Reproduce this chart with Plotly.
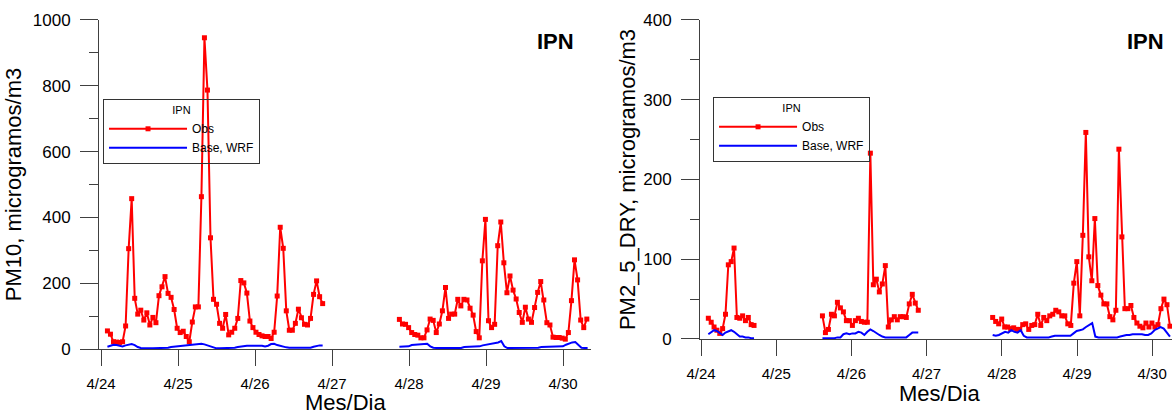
import pandas as pd
import plotly.graph_objects as go

pm10_obs_1 = [55, 45, 22, 21, 20, 22, 70, 305, 457, 154, 106, 118, 88, 110, 73, 96, 80, 162,
              189, 220, 169, 157, 120, 63, 50, 54, 38, 22, 82, 128, 128, 463, 946, 787, 338,
              151, 136, 78, 63, 105, 43, 51, 63, 93, 208, 201, 170, 85, 65, 51, 44, 40, 38,
              38, 32, 51, 161, 370, 306, 116, 57, 57, 78, 121, 95, 75, 73, 93, 166, 207, 159, 138]
pm10_obs_2 = [90, 76, 75, 65, 50, 44, 42, 34, 34, 58, 91, 87, 50, 76, 116, 187, 93, 106, 106,
              151, 131, 151, 149, 124, 103, 53, 34, 268, 394, 86, 65, 75, 314, 386, 262, 171,
              222, 179, 152, 111, 81, 127, 91, 81, 126, 172, 205, 149, 80, 73, 36, 35, 35, 33,
              30, 50, 147, 271, 210, 88, 65, 91]
pm10_wrf_1 = [7, 10, 13, 12, 9, 8, 11, 13, 15, 12, 6, 3, 2, 2, 2, 2, 2, 2, 2, 3, 4, 6, 7, 8,
              9, 10, 10, 11, 12, 12, 14, 16, 14, 11, 7, 4, 2, 2, 2, 2, 2, 3, 4, 6, 8, 10, 10,
              10, 10, 10, 11, 10, 8, 10, 15, 16, 12, 9, 7, 5, 4, 4, 4, 3, 3, 3, 3, 4, 7, 10, 11, 11]
pm10_wrf_2 = [7, 7, 7, 8, 12, 13, 13, 13, 14, 16, 8, 4, 3, 3, 3, 3, 3, 3, 3, 3, 3, 6, 6, 6, 6,
              7, 8, 11, 13, 14, 15, 17, 20, 24, 8, 3, 3, 3, 3, 3, 3, 3, 3, 3, 3, 4, 6, 6, 6, 6,
              6, 6, 7, 8, 13, 17, 20, 21, 12, 4, 3, 3]

pm25_obs_a = [26, 21, 15, 11, 7, 13, 31, 93, 97, 114, 27, 26, 29, 23, 27, 18, 17]
pm25_obs_b = [29, 8, 12, 31, 29, 46, 39, 34, 23, 23, 17, 23, 26, 22, 21, 21, 233, 68, 75, 59,
              69, 92, 15, 24, 28, 24, 28, 28, 27, 44, 56, 45, 36]
pm25_obs_c = [27, 22, 19, 25, 15, 15, 13, 14, 12, 12, 18, 19, 12, 17, 18, 31, 17, 27, 23, 29,
              31, 36, 34, 29, 29, 19, 17, 70, 97, 29, 130, 259, 103, 73, 151, 67, 55, 44, 44,
              28, 24, 36, 238, 128, 38, 38, 42, 27, 20, 16, 14, 20, 15, 20, 15, 18, 38, 50, 43, 16]
pm25_wrf_a = [6, 8, 11, 10, 7, 5, 8, 10, 11, 9, 6, 3, 3, 2, 2, 1, 1]
pm25_wrf_b = [1, 1, 1, 1, 1, 2, 2, 6, 7, 6, 7, 7, 9, 8, 5, 9, 12, 10, 7, 5, 3, 2, 2, 2, 2, 2,
              2, 2, 2, 5, 8, 8, 8]
pm25_wrf_c = [5, 4, 5, 7, 9, 8, 11, 9, 8, 11, 4, 2, 2, 2, 2, 2, 2, 2, 2, 3, 4, 4, 4, 4, 4, 4,
              7, 10, 11, 12, 15, 18, 20, 3, 2, 2, 2, 2, 2, 2, 2, 3, 4, 5, 5, 6, 6, 6, 6, 5, 5,
              7, 11, 13, 15, 13, 8, 3]

# start / end time of each data segment
seg_l1 = ("2006-04-24 02:00", "2006-04-26 21:05")
seg_l2 = ("2006-04-27 21:00", "2006-04-30 07:25")
seg_l2w = ("2006-04-27 21:00", "2006-04-30 07:40")
seg_ra = ("2006-04-24 02:20", "2006-04-24 16:55")
seg_rb = ("2006-04-25 14:45", "2006-04-26 21:20")
seg_rc = ("2006-04-27 21:05", "2006-04-30 05:40")


def join(*parts):
    xs, ys = [], []
    for (t0, t1), vals in parts:
        t = pd.date_range(t0, t1, periods=len(vals))
        if xs:
            xs.append(t[0] - pd.Timedelta(minutes=30))
            ys.append(None)
        xs.extend(t)
        ys.extend(vals)
    return xs, ys


RED = "#ff0000"
BLUE = "#0000ff"
AXC = "#404040"
FONT = "Arial, Liberation Sans, sans-serif"

fig = go.Figure()

x, y = join((seg_l1, pm10_obs_1), (seg_l2, pm10_obs_2))
fig.add_trace(go.Scatter(x=x, y=y, name="Obs", mode="lines+markers",
                         line=dict(color=RED, width=2), marker=dict(symbol="square", size=5, color=RED),
                         xaxis="x", yaxis="y", legend="legend"))
x, y = join((seg_l1, pm10_wrf_1), (seg_l2w, pm10_wrf_2))
fig.add_trace(go.Scatter(x=x, y=y, name="Base, WRF", mode="lines",
                         line=dict(color=BLUE, width=2), xaxis="x", yaxis="y", legend="legend"))

x, y = join((seg_ra, pm25_obs_a), (seg_rb, pm25_obs_b), (seg_rc, pm25_obs_c))
fig.add_trace(go.Scatter(x=x, y=y, name="Obs", mode="lines+markers",
                         line=dict(color=RED, width=2), marker=dict(symbol="square", size=5, color=RED),
                         xaxis="x2", yaxis="y2", legend="legend2"))
x, y = join((seg_ra, pm25_wrf_a), (seg_rb, pm25_wrf_b), (seg_rc, pm25_wrf_c))
fig.add_trace(go.Scatter(x=x, y=y, name="Base, WRF", mode="lines",
                         line=dict(color=BLUE, width=2), xaxis="x2", yaxis="y2", legend="legend2"))

xcommon = dict(type="date", dtick=86400000, tick0="2006-04-24", tickformat="%-m/%-d",
               automargin=False, showline=True, linecolor=AXC, linewidth=1, ticks="outside",
               ticklen=16, tickcolor=AXC, showgrid=False, zeroline=False, ticklabelstandoff=5,
               tickfont=dict(size=15, color="black", family=FONT))
ycommon = dict(automargin=False, showline=True, linecolor=AXC, linewidth=1, ticks="outside",
               ticklen=18, tickcolor=AXC, showgrid=False, zeroline=False, ticklabelstandoff=6,
               tickfont=dict(size=17, color="black", family=FONT))
legcommon = dict(xanchor="left", yanchor="top", bgcolor="rgba(0,0,0,0)",
                 bordercolor="#333", borderwidth=1, itemwidth=78, font=dict(size=12),
                 title=dict(text="IPN", side="top center", font=dict(size=11)))
big = dict(size=22, color="black", family=FONT)

fig.update_layout(
    width=1172, height=414, margin=dict(l=0, r=0, t=0, b=0),
    paper_bgcolor="white", plot_bgcolor="white",
    font=dict(family=FONT, color="black"),
    xaxis=dict(xcommon, domain=[0.0845, 0.5043], anchor="y",
               range=["2006-04-23 23:23", "2006-04-30 08:44"]),
    yaxis=dict(ycommon, domain=[0.157, 0.9517], anchor="x", range=[0, 1000], dtick=200,
               minor=dict(dtick=100, ticks="outside", ticklen=9, tickcolor=AXC),
               title=dict(text="PM10, microgramos/m3", font=big, standoff=5)),
    xaxis2=dict(xcommon, domain=[0.5973, 1.0], anchor="y2",
                range=["2006-04-23 23:41", "2006-04-30 06:19"]),
    yaxis2=dict(ycommon, domain=[0.1812, 0.9517], anchor="x2", range=[0, 400], dtick=100,
                minor=dict(dtick=50, ticks="outside", ticklen=9, tickcolor=AXC),
                title=dict(text="PM2_5_DRY, microgramos/m3", font=big, standoff=1)),
    legend=dict(legcommon, x=0.0879, y=0.7609),
    legend2=dict(legcommon, x=0.6084, y=0.7657),
    annotations=[
        dict(text="<b>IPN</b>", x=0.4744, y=0.8986, xref="paper", yref="paper", showarrow=False,
             xanchor="center", yanchor="middle", font=big),
        dict(text="<b>IPN</b>", x=0.9778, y=0.8986, xref="paper", yref="paper", showarrow=False,
             xanchor="center", yanchor="middle", font=big),
        # x axis titles
        dict(text="Mes/Dia", x=0.2944, y=0.0266, xref="paper", yref="paper", showarrow=False,
             xanchor="center", yanchor="middle", font=big),
        dict(text="Mes/Dia", x=0.8012, y=0.0507, xref="paper", yref="paper", showarrow=False,
             xanchor="center", yanchor="middle", font=big),
    ],
)

fig.write_html("out.html", config={"displayModeBar": False},
               post_script="document.body.style.margin = '0';")
